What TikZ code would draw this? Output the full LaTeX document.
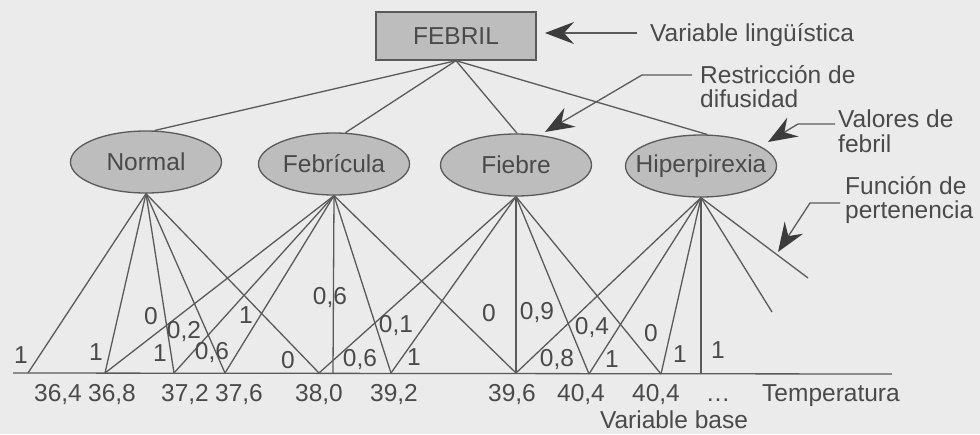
\documentclass[tikz,border=0pt]{standalone}
\usepackage{fontspec}
\setmainfont{Liberation Sans}
\usetikzlibrary{shapes.geometric,arrows.meta}

\definecolor{paper}{HTML}{EBEBEB}
\definecolor{inkgray}{HTML}{5A5A5A}
\definecolor{textgray}{HTML}{4A4A4A}
\definecolor{fillgray}{HTML}{BDBDBD}
\definecolor{headgray}{HTML}{3C3C3C}

\tikzset{
  wire/.style={draw=inkgray, line width=1.3pt},
  boxnode/.style={rectangle, draw=inkgray, line width=1.3pt, fill=fillgray,
    minimum width=160pt, minimum height=48pt, inner sep=0pt, text=textgray},
  ell/.style={ellipse, draw=inkgray, line width=1.3pt, fill=fillgray,
    minimum width=151pt, minimum height=62pt, inner sep=0pt,
    label={[text=textgray, inner sep=0pt]center:#1}},
  val/.style={inner sep=0pt, text=textgray},
  axislab/.style={inner sep=0pt, text=textgray, anchor=base},
  note/.style={inner sep=0pt, text=textgray, anchor=base west},
  pointer/.style={draw=inkgray, line width=1.3pt,
    -{Stealth[length=29pt, width=22pt, inset=10pt, color=headgray, fill=headgray]}},
}

\begin{document}
\begin{tikzpicture}[x=1pt, y=-1pt, font=\fontsize{24.5}{28}\selectfont]
  % canvas
  \fill[paper] (0,0) rectangle (980,434);
  \useasboundingbox (0,0) rectangle (980,434);

  % linguistic variable and its values
  \node[boxnode] (febril) at (456,36) {FEBRIL};
  \node[ell=Normal]       (normal) at (146,162) {};
  \node[ell=Febrícula]    (febri)  at (334,164) {};
  \node[ell=Fiebre]       (fiebre) at (516,165) {};
  \node[ell=Hiperpirexia] (hiper)  at (701,166) {};

  \draw[wire] (febril.south) -- (normal.75);
  \draw[wire] (febril.south) -- (febri.70);
  \draw[wire] (febril.south) -- (fiebre.88);
  \draw[wire] (febril.south) -- (hiper.79);

  % base variable axis
  \coordinate (axL) at (13,373);
  \coordinate (axR) at (892,374);
  \draw[wire] (axL) -- (axR);

  \coordinate (b364)  at (28,373);
  \coordinate (b368)  at (105,373);
  \coordinate (b372)  at (174,373);
  \coordinate (b376)  at (225,373);
  \coordinate (b380)  at (319,373);
  \coordinate (bfeb)  at (333,373);
  \coordinate (b392)  at (391,373);
  \coordinate (b396)  at (516,373);
  \coordinate (b404a) at (589,374);
  \coordinate (b404b) at (661,374);
  \coordinate (bhip)  at (701,374);
  \coordinate (open1) at (772,312);
  \coordinate (open2) at (808,278);

  % membership functions
  \foreach \p in {b364,b368,b372,b376,b380}
    \draw[wire] (normal.south) -- (\p);
  \foreach \p in {b368,b372,b376,bfeb,b392,b396}
    \draw[wire] (febri.south) -- (\p);
  \foreach \p in {b380,b392,b396,b404a,b404b}
    \draw[wire] (fiebre.south) -- (\p);
  \foreach \p in {b396,b404a,b404b,bhip,open1,open2}
    \draw[wire] (hiper.south) -- (\p);

  % membership degrees
  \node[val] (m01) at (21,355)  {1};
  \node[val] (m02) at (96,352)  {1};
  \node[val] (m03) at (151,316) {0};
  \node[val] (m04) at (184,332) {0,2};
  \node[val] (m05) at (160,353) {1};
  \node[val] (m06) at (212,353) {0,6};
  \node[val] (m07) at (246,315) {1};
  \node[val] (m08) at (288,360) {0};
  \node[val] (m09) at (330,298) {0,6};
  \node[val] (m10) at (360,360) {0,6};
  \node[val] (m11) at (396,326) {0,1};
  \node[val] (m12) at (414,357) {1};
  \node[val] (m13) at (489,313) {0};
  \node[val] (m14) at (537,313) {0,9};
  \node[val] (m15) at (592,328) {0,4};
  \node[val] (m16) at (651,333) {0};
  \node[val] (m17) at (557,360) {0,8};
  \node[val] (m18) at (612,359) {1};
  \node[val] (m19) at (680,354) {1};
  \node[val] (m20) at (718,350) {1};

  % axis values
  \node[axislab] (x1)  at (58,401)  {36,4};
  \node[axislab] (x2)  at (112,401) {36,8};
  \node[axislab] (x3)  at (185,401) {37,2};
  \node[axislab] (x4)  at (239,401) {37,6};
  \node[axislab] (x5)  at (319,401) {38,0};
  \node[axislab] (x6)  at (394,401) {39,2};
  \node[axislab] (x7)  at (512,401) {39,6};
  \node[axislab] (x8)  at (581,401) {40,4};
  \node[axislab] (x9)  at (656,401) {40,4};
  \node[axislab] (x10) at (718,401) {…};
  \node[note]    (temp) at (762,401) {Temperatura};
  \node[axislab] (vbase) at (674,428) {Variable base};

  % annotations
  \node[note] (nLing) at (650,41)  {Variable lingüística};
  \node[note] (nRes1) at (700,83)  {Restricción de};
  \node[note] (nRes2) at (700,107) {difusidad};
  \node[note] (nVal1) at (838,127) {Valores de};
  \node[note] (nVal2) at (838,152) {febril};
  \node[note] (nFun1) at (845,194) {Función de};
  \node[note] (nFun2) at (845,218) {pertenencia};

  \coordinate (tLing) at (545,33);
  \coordinate (tRes)  at (545,132);
  \coordinate (tVal)  at (768,142);
  \coordinate (tFun)  at (778,252);

  \draw[pointer] ([xshift=-13pt, yshift=8pt]nLing.base west) -- (tLing);
  \draw[pointer] ([xshift=-8pt, yshift=8pt]nRes1.base west) -- ++(-50,0) -- (tRes);
  \draw[pointer] ([xshift=-3pt, yshift=3pt]nVal1.base west) -- ++(-37,0) -- (tVal);
  \draw[pointer] ([xshift=-5pt, yshift=-9pt]nFun1.base west) -- ++(-30,0) -- (tFun);
\end{tikzpicture}
\end{document}
